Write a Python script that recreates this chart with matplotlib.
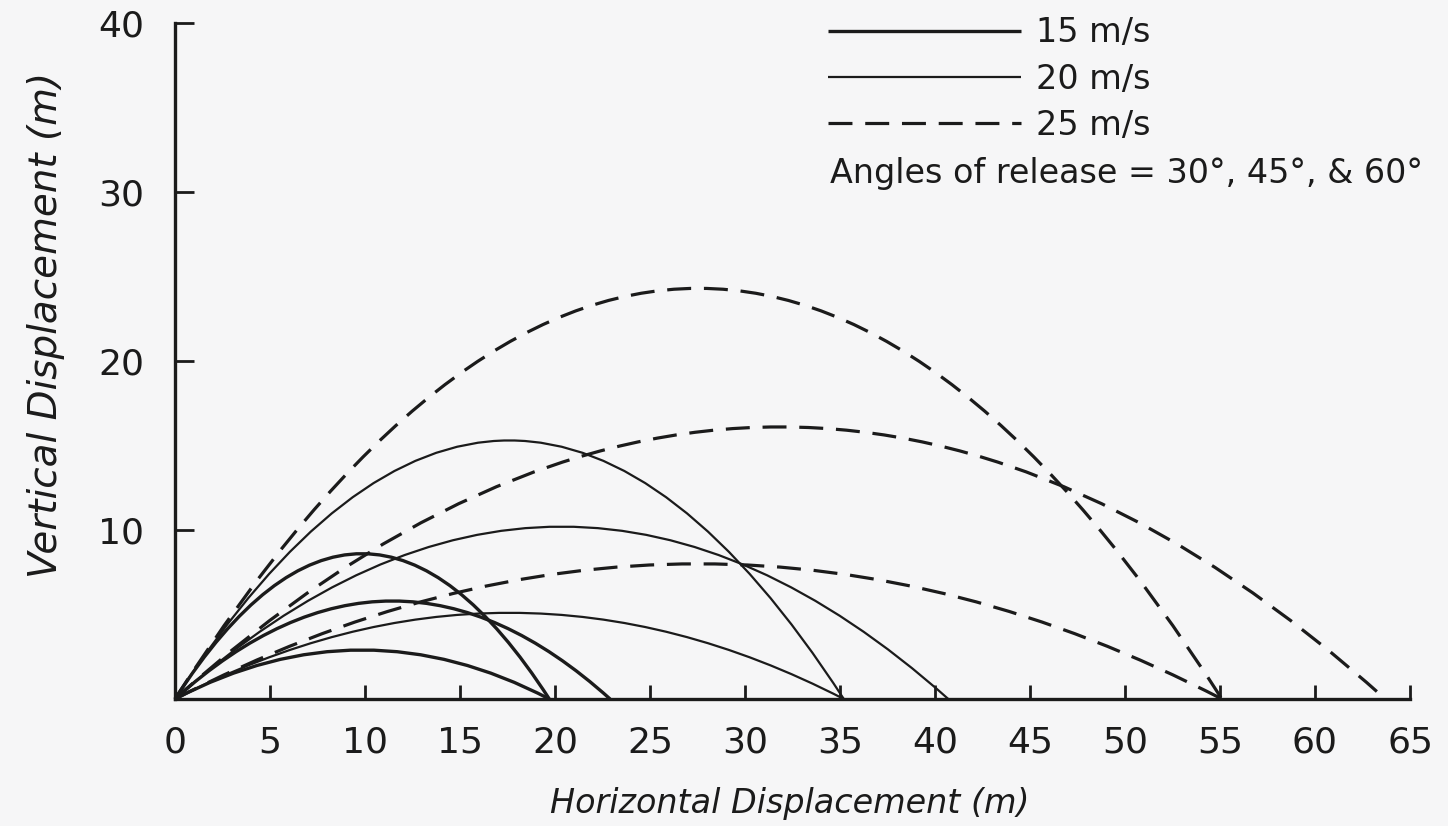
import matplotlib
matplotlib.use('Agg')
import matplotlib.pyplot as plt
from matplotlib.path import Path
from matplotlib.patches import PathPatch
from matplotlib.lines import Line2D

# release speeds (m/s) and angles (deg)
speeds = [15, 20, 25]
angles = [30, 45, 60]

# landing distance and peak height of each trajectory
range_15 = [19.7, 22.9, 19.7]
peak_15 = [2.9, 5.8, 8.6]
range_20 = [35.2, 40.7, 35.2]
peak_20 = [5.1, 10.2, 15.3]
range_25 = [55.1, 63.7, 55.1]
peak_25 = [8.0, 16.1, 24.3]

x_ticks = [0, 5, 10, 15, 20, 25, 30, 35, 40, 45, 50, 55, 60, 65]
y_ticks = [10, 20, 30, 40]

ink = '#1b1b1b'
styles = {
    15: dict(lw=2.4, ls='-'),
    20: dict(lw=1.6, ls='-'),
    25: dict(lw=2.3, ls=(0, (7.5, 4))),
}

fig = plt.figure(figsize=(14.48, 8.26), dpi=100, facecolor='#f6f6f7')
ax = fig.add_axes([175 / 1448, 127 / 826, 1235 / 1448, 676 / 826])
ax.set_facecolor('#f6f6f7')

curves = [(15, range_15, peak_15), (20, range_20, peak_20), (25, range_25, peak_25)]
for spd, rng, pk in curves:
    for r, h in zip(rng, pk):
        # a projectile path is a parabola -> one quadratic bezier segment
        verts = [(0, 0), (r / 2, 2 * h), (r, 0)]
        p = Path(verts, [Path.MOVETO, Path.CURVE3, Path.CURVE3])
        ax.add_patch(PathPatch(p, fill=False, color=ink, clip_on=False,
                               capstyle='butt', **styles[spd]))

ax.set_xlim(0, 65)
ax.set_ylim(0, 40)
for s in ['top', 'right']:
    ax.spines[s].set_visible(False)
for s in ['left', 'bottom']:
    ax.spines[s].set_linewidth(2.4)
    ax.spines[s].set_color(ink)

ax.set_xticks(x_ticks)
ax.set_yticks(y_ticks)
ax.tick_params(axis='x', direction='in', length=10, width=2, pad=19,
               labelsize=26, colors=ink)
ax.tick_params(axis='y', direction='in', length=14, width=2, pad=22,
               labelsize=26, colors=ink)

fig.text(790 / 1448, 22 / 826, 'Horizontal Displacement (m)', ha='center',
         va='center', style='italic', fontsize=24, color=ink)
fig.text(46 / 1448, 501 / 826, 'Vertical Displacement (m)', ha='center',
         va='center', rotation=90, style='italic', fontsize=28, color=ink)

handles = [Line2D([], [], color=ink, solid_capstyle='butt',
                  dash_capstyle='butt', **styles[s]) for s in speeds]
ax.legend(handles, [f'{s} m/s' for s in speeds], loc='upper left',
          bbox_to_anchor=(0.529, 1.010), frameon=False, fontsize=24,
          handlelength=5.77, handletextpad=0.45, labelspacing=0.40,
          borderpad=0, borderaxespad=0, labelcolor=ink)
ax.text(0.530, 0.7770, 'Angles of release = 30°, 45°, & 60°',
        transform=ax.transAxes, va='center', ha='left', fontsize=24, color=ink)

fig.savefig('out.png', dpi=100, facecolor=fig.get_facecolor())
